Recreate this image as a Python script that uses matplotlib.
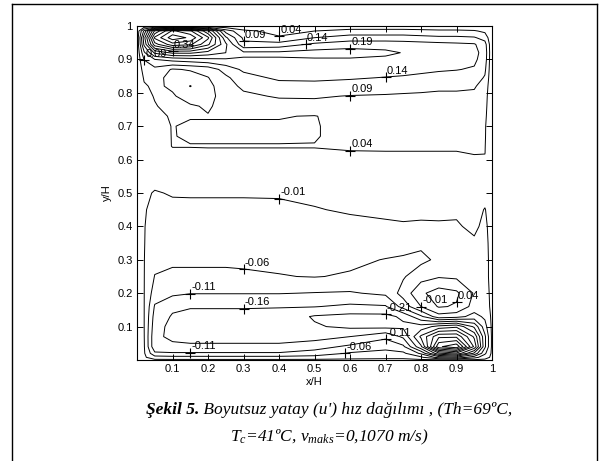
import numpy as np
import matplotlib
matplotlib.use("Agg")
import matplotlib.pyplot as plt
from matplotlib.lines import Line2D

# dimensionless horizontal velocity u' on a (non-uniform) x/H, y/H grid
xh = [0, .02, .05, .1, .15, .2, .25, .3, .4, .5, .6, .7, .75, .8, .85, .9, .95, .98, 1]
yh = [1.0, .985, .965, .945, .92, .9, .87, .845, .82, .79, .76, .73, .7, .67, .64, .62, .6,
      .55, .5, .45, .4, .35, .3, .25, .2, .16, .13, .1, .07, .04, .02, .008, 0]

u_rows = [
    [0] * 19,
    [0, .15, .40, .55, .50, .35, .12, .05, .025, .04, .06, .06, .06, .055, .05, .05, .045, .03, 0],
    [0, .22, .50, .62, .58, .45, .20, .08, .045, .09, .11, .11, .11, .105, .10, .10, .095, .07, 0],
    [0, .20, .42, .52, .50, .40, .25, .10, .11, .15, .17, .17, .165, .16, .155, .15, .145, .11, 0],
    [0, .13, .25, .30, .30, .27, .24, .20, .20, .21, .21, .20, .188, .18, .17, .16, .155, .12, 0],
    [0, .092, .14, .16, .17, .18, .185, .185, .185, .185, .185, .18, .17, .165, .16, .155, .15, .115, 0],
    [0, .06, .075, .035, .045, .06, .11, .15, .17, .17, .165, .16, .155, .15, .145, .142, .135, .10, 0],
    [0, .045, .055, .025, .015, .038, .08, .12, .15, .15, .145, .138, .135, .13, .125, .12, .115, .085, 0],
    [0, .035, .048, .033, -.012, .025, .07, .10, .12, .125, .12, .115, .11, .105, .10, .10, .095, .07, 0],
    [0, .03, .042, .045, .02, .025, .06, .08, .095, .095, .088, .085, .083, .082, .08, .08, .08, .06, 0],
    [0, .025, .038, .05, .045, .035, .055, .065, .07, .075, .075, .075, .07, .07, .07, .07, .07, .055, 0],
    [0, .02, .035, .042, .042, .042, .042, .042, .042, .038, .06, .065, .06, .06, .06, .06, .06, .05, 0],
    [0, .015, .03, .041, .036, .036, .036, .036, .036, .037, .055, .055, .055, .055, .055, .055, .055, .045, 0],
    [0, .012, .028, .041, .037, .037, .037, .037, .037, .038, .05, .05, .05, .05, .05, .05, .05, .044, 0],
    [0, .01, .025, .041, .041, .041, .041, .041, .041, .041, .042, .043, .043, .043, .043, .043, .043, .042, 0],
    [0, .008, .02, .035, .035, .037, .037, .037, .037, .037, .039, .039, .039, .039, .039, .039, .041, .041, 0],
    [0, .005, .015, .02, .02, .02, .02, .02, .02, .025, .035, .035, .035, .035, .035, .035, .037, .035, 0],
    [0, 0, 0, .005, .005, .005, .005, .005, .005, .007, .012, .015, .015, .015, .015, .015, .018, .02, 0],
    [0, -.005, -.012, -.008, -.008, -.008, -.008, -.008, -.008, -.006, -.005, -.004, -.003, -.002, -.002, -.002, 0, -.002, 0],
    [0, -.007, -.02, -.016, -.015, -.015, -.015, -.015, -.014, -.011, -.008, -.006, -.005, -.005, -.006, -.007, -.003, -.011, 0],
    [0, -.008, -.03, -.025, -.024, -.024, -.024, -.024, -.022, -.018, -.015, -.013, -.012, -.013, -.012, -.012, -.006, -.015, 0],
    [0, -.008, -.04, -.04, -.038, -.038, -.038, -.038, -.036, -.032, -.03, -.035, -.04, -.05, -.03, -.018, -.013, -.018, 0],
    [0, -.009, -.045, -.055, -.055, -.055, -.055, -.054, -.05, -.045, -.05, -.062, -.067, -.072, -.05, -.03, -.02, -.02, 0],
    [0, -.009, -.062, -.066, -.066, -.066, -.066, -.065, -.062, -.058, -.065, -.075, -.065, -.03, -.015, -.02, -.03, -.02, 0],
    [0, -.009, -.085, -.10, -.108, -.108, -.108, -.108, -.108, -.112, -.115, -.10, -.04, .03, .065, .05, -.015, -.025, 0],
    [0, -.009, -.115, -.15, -.156, -.156, -.156, -.156, -.157, -.158, -.17, -.165, -.09, -.01, .045, .035, -.03, -.03, 0],
    [0, -.009, -.13, -.165, -.175, -.175, -.175, -.175, -.18, -.215, -.225, -.225, -.2, -.12, -.03, -.04, -.08, -.05, 0],
    [0, -.009, -.14, -.175, -.185, -.185, -.185, -.185, -.19, -.205, -.22, -.225, -.22, -.23, -.28, -.3, -.2, -.08, 0],
    [0, -.008, -.15, -.17, -.18, -.18, -.18, -.18, -.18, -.18, -.16, -.12, -.17, -.32, -.45, -.45, -.3, -.12, 0],
    [0, -.006, -.15, -.15, -.15, -.15, -.15, -.15, -.15, -.13, -.10, -.08, -.10, -.25, -.55, -.6, -.35, -.12, 0],
    [0, -.004, -.10, -.105, -.105, -.105, -.105, -.105, -.105, -.09, -.055, -.04, -.05, -.12, -.3, -.35, -.2, -.07, 0],
    [0, -.002, -.04, -.045, -.045, -.045, -.045, -.045, -.045, -.04, -.025, -.02, -.02, -.05, -.13, -.15, -.08, -.03, 0],
    [0] * 19,
]

# labelled contours: level and rough spot where the label sits
label_levels = [0.34, 0.09, 0.09, 0.04, 0.14, 0.19, 0.14, 0.09, 0.04, -0.01, -0.06,
                -0.11, -0.16, -0.11, -0.06, -0.11, -0.21, -0.01, 0.04]
label_spots = [(0.08, 0.95), (0.025, 0.9), (0.31, 0.955), (0.38, 0.965), (0.445, 0.934),
               (0.63, 0.93), (0.69, 0.838), (0.6, 0.80), (0.563, 0.62), (0.45, 0.474),
               (0.31, 0.266), (0.135, 0.186), (0.3, 0.15), (0.17, 0.022), (0.566, 0.024),
               (0.68, 0.07), (0.707, 0.135), (0.79, 0.174), (0.887, 0.185)]

levels = np.round(np.arange(-0.61, 0.62, 0.05), 2)

plt.rcParams["font.family"] = ["Liberation Sans Narrow", "Liberation Sans", "DejaVu Sans"]
plt.rcParams["mathtext.fontset"] = "custom"
plt.rcParams["mathtext.it"] = "Liberation Serif:italic"
plt.rcParams["mathtext.rm"] = "Liberation Serif:italic"

fig = plt.figure(figsize=(6.01, 4.61), dpi=100)
ax = fig.add_axes([137 / 601, 1 - 360 / 461, 355 / 601, 334 / 461])

U = np.array(u_rows)
cs = ax.contour(xh, yh, U, levels=levels, colors="black", linewidths=0.7,
                linestyles="solid")

# matlab-style labels: a "+" on the line, value up and to the right
for lev, (px, py) in zip(label_levels, label_spots):
    k = int(np.argmin(np.abs(levels - lev)))
    pts = [s for s in cs.allsegs[k] if len(s)]
    if not pts:
        continue
    pts = np.vstack(pts)
    j = int(np.argmin((pts[:, 0] - px) ** 2 + (pts[:, 1] - py) ** 2))
    cx, cy = pts[j]
    ax.plot(cx, cy, marker="+", color="black", ms=7, mew=0.8)
    ax.annotate(f"{lev:.2f}", (cx, cy), xytext=(1, 1), textcoords="offset points",
                fontsize=8, ha="left", va="bottom")

ax.set_xlim(0, 1)
ax.set_ylim(0, 1)
ax.set_xticks(np.arange(0.1, 1.01, 0.1))
ax.set_yticks(np.arange(0.1, 1.01, 0.1))
ax.set_xticklabels(["0.1", "0.2", "0.3", "0.4", "0.5", "0.6", "0.7", "0.8", "0.9", "1"])
ax.set_yticklabels(["0.1", "0.2", "0.3", "0.4", "0.5", "0.6", "0.7", "0.8", "0.9", "1"])
ax.tick_params(direction="in", length=4, width=0.7, top=True, right=True, labelsize=8, pad=3)
for sp in ax.spines.values():
    sp.set_linewidth(0.8)
ax.set_xlabel("x/H", fontsize=8, labelpad=2)
ax.set_ylabel("y/H", fontsize=8, labelpad=4)

# frame around the figure (open at the bottom)
for xs, ys in [((12 / 601, 12 / 601), (0, 1 - 4 / 461)),
               ((12 / 601, 597 / 601), (1 - 4 / 461, 1 - 4 / 461)),
               ((597 / 601, 597 / 601), (0, 1 - 4 / 461))]:
    fig.add_artist(Line2D(xs, ys, color="black", lw=1.0, transform=fig.transFigure))

# caption
serif = "Liberation Serif"
fig.canvas.draw()
r = fig.canvas.get_renderer()
t1 = fig.text(0, 0.102, "Şekil 5.", family=serif, style="italic", weight="bold", fontsize=12.5)
t2 = fig.text(0, 0.102, " Boyutsuz yatay (u') hız dağılımı , (Th=69ºC,", family=serif,
              style="italic", fontsize=12.5)
w1 = t1.get_window_extent(r).width / fig.bbox.width
w2 = t2.get_window_extent(r).width / fig.bbox.width
x0 = 0.548 - (w1 + w2) / 2
t1.set_x(x0)
t2.set_x(x0 + w1)
fig.text(0.548, 0.042, r"$T_c$=41ºC, $v_{maks}$=0,1070 m/s)", family=serif, style="italic",
         fontsize=12.5, ha="center")

fig.savefig("out.png", dpi=100)
